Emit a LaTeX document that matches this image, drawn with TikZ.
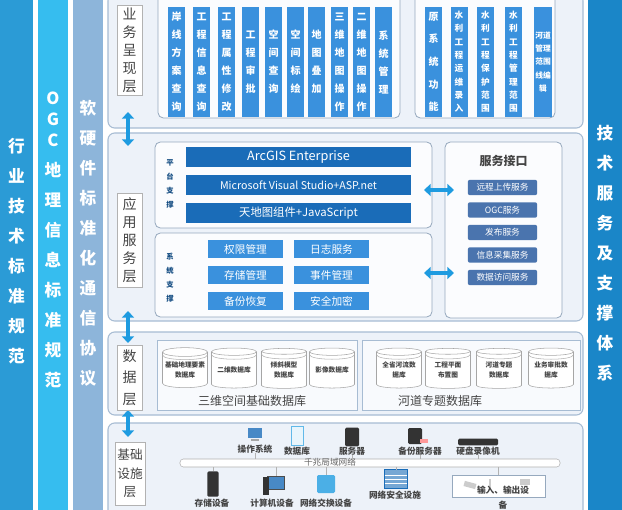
\documentclass[tikz,border=0pt]{standalone}
\usepackage{fontspec}
\setmainfont{Noto Sans CJK SC}
\usetikzlibrary{fit,shapes.geometric,arrows.meta}
\definecolor{colA}{HTML}{2B9BD6}
\definecolor{colB}{HTML}{36BDEF}
\definecolor{colC}{HTML}{8DB5DA}
\definecolor{colR}{HTML}{1A86C8}
\definecolor{layfill}{HTML}{EDF2F9}
\definecolor{layline}{HTML}{A7BCD3}
\definecolor{barblue}{HTML}{3A91DD}
\definecolor{darkbar}{HTML}{1A6CB8}
\definecolor{svc}{HTML}{4A74AE}
\definecolor{arrowc}{HTML}{1E9BE0}
\definecolor{txtg}{HTML}{444444}
\tikzset{
 every node/.style={inner sep=0,outer sep=0},
 colbox/.style={fit={#1},draw=none},
 coltext/.style={text=white,font=\bfseries\fontsize{12.5}{22.5}\selectfont,align=center},
 layer/.style={draw=layline,fill=layfill,line width=0.8pt,rounded corners=5pt,fit={#1}},
 inner/.style={draw=layline!90!black,fill=white!80!layfill,line width=0.6pt,rounded corners=4pt,fit={#1}},
 subp/.style={draw=layline,fill=white!60!layfill,line width=0.6pt,fit={#1}},
 lbl/.style={draw=gray!60,fill=white,fit={#1}},
 lbltxt/.style={text=txtg,font=\fontsize{10.5}{13.5}\selectfont,align=center},
 bar/.style={fill=barblue,text=white,font=\bfseries\fontsize{7.5}{13.5}\selectfont,align=center,minimum width=12.75pt,minimum height=82.5pt},
 rbar/.style={fill=barblue,text=white,font=\bfseries\fontsize{6.5}{10}\selectfont,align=center,minimum width=12.75pt,minimum height=82.5pt},
 dbar/.style={fill=darkbar,minimum width=168.75pt,minimum height=15pt,text=white},
 sbox/.style={fill=barblue,text=white,font=\fontsize{8}{10}\selectfont,minimum width=56pt,minimum height=13.5pt},
 svcbox/.style={fill=svc,text=white,font=\fontsize{6.5}{8}\selectfont,minimum width=52pt,minimum height=11.5pt,rounded corners=1.5pt},
 small/.style={text=darkbar!70!black,font=\bfseries\fontsize{5.5}{10.5}\selectfont,align=center},
 dar/.style={draw=arrowc,line width=3.2pt,{Triangle[width=9pt,length=5pt]}-{Triangle[width=9pt,length=5pt]}},
 cyl/.style={cylinder,shape border rotate=90,aspect=0.22,draw=gray!70,fill=white,minimum width=33.75pt,minimum height=30pt,font=\bfseries\fontsize{5}{8}\selectfont,text=txtg,align=center},
 dblab/.style={text=txtg,font=\fontsize{9}{10}\selectfont},
 ilab/.style={text=txtg,font=\bfseries\fontsize{6.5}{8}\selectfont},
 wire/.style={draw=gray!60,line width=0.5pt},
}
\begin{document}
\begin{tikzpicture}[x=0.75pt,y=-0.75pt]
\useasboundingbox (0,0) rectangle (622,510);
\clip (0,0) rectangle (622,510);
\fill[white] (0,0) rectangle (622,510);
% side columns
\node[colbox={(0,0)(33,510)},fill=colA] (c1) {};
\node[coltext] (c1t) at (16.5,251) {行\\业\\技\\术\\标\\准\\规\\范};
\node[colbox={(38,0)(68,510)},fill=colB] (c2) {};
\node[coltext] (c2t) at (53,240) {O\\[-7pt]G\\[-7pt]C\\地\\理\\信\\息\\标\\准\\规\\范};
\node[colbox={(73,0)(103,510)},fill=colC] (c3) {};
\node[coltext] (c3t) at (88,243) {软\\硬\\件\\标\\准\\化\\通\\信\\协\\议};
\node[colbox={(588,0)(622,510)},fill=colR] (c4) {};
\node[coltext] (c4t) at (605,253) {技\\术\\服\\务\\及\\支\\撑\\体\\系};
% layers
\node[layer={(108,-6)(583,128)}] (L1) {};
\node[layer={(108,133)(583,321)}] (L2) {};
\node[layer={(108,332)(583,415)}] (L3) {};
\node[layer={(108,423)(583,520)}] (L4) {};
% layer 1
\node[lbl={(117,5)(142,95)}] (l1) {};
\node[lbltxt] (l1t) at (l1.center) {业\\务\\呈\\现\\层};
\node[inner={(158,-6)(400,118)}] (P1) {};
\node[inner={(415,-6)(555,118)}] (P2) {};
\node[bar] (b1) at (176.5,62) {岸\\线\\方\\案\\查\\询};
\node[bar] (b2) at (201.5,62) {工\\程\\信\\息\\查\\询};
\node[bar] (b3) at (226.5,62) {工\\程\\属\\性\\修\\改};
\node[bar] (b4) at (250.5,62) {工\\程\\审\\批};
\node[bar] (b5) at (273.5,62) {空\\间\\查\\询};
\node[bar] (b6) at (295.5,62) {空\\间\\标\\绘};
\node[bar] (b7) at (316.5,62) {地\\图\\叠\\加};
\node[bar] (b8) at (339.5,62) {三\\维\\地\\图\\操\\作};
\node[bar] (b9) at (361.5,62) {二\\维\\地\\图\\操\\作};
\node[bar] (b10) at (383.5,62) {系\\统\\管\\理};
\node[rbar,font=\bfseries\fontsize{7.5}{17}\selectfont] (r1) at (433.5,62) {原\\系\\统\\功\\能};
\node[rbar] (r2) at (459,62) {水\\利\\工\\程\\运\\维\\录\\入};
\node[rbar] (r3) at (485.5,62) {水\\利\\工\\程\\保\\护\\范\\围};
\node[rbar] (r4) at (513.5,62) {水\\利\\工\\程\\管\\理\\范\\围};
\node[rbar,minimum width=13.5pt,font=\bfseries\fontsize{5.8}{10}\selectfont] (r5) at (543,62) {河道\\管理\\范围\\线编\\辑};
% layer 2
\node[lbl={(117,193)(142,287)}] (l2) {};
\node[lbltxt] (l2t) at (l2.center) {应\\用\\服\\务\\层};
\node[inner={(155,142)(432,228)}] (PP) {};
\node[small] (pt) at (170,184) {平\\台\\支\\撑};
\node[dbar,font=\fontsize{9.5}{10}\selectfont] (d1) at (298.5,157) {ArcGIS Enterprise};
\node[dbar,font=\fontsize{8}{10}\selectfont] (d2) at (298.5,185) {Microsoft Visual Studio+ASP.net};
\node[dbar,font=\fontsize{8.5}{10}\selectfont] (d3) at (298.5,213) {天地图组件+JavaScript};
\node[inner={(155,233)(432,317)}] (PS) {};
\node[small] (st) at (170,278) {系\\统\\支\\撑};
\node[sbox] (s1) at (245.5,249) {权限管理};
\node[sbox] (s2) at (331.5,249) {日志服务};
\node[sbox] (s3) at (245.5,275) {存储管理};
\node[sbox] (s4) at (331.5,275) {事件管理};
\node[sbox] (s5) at (245.5,301) {备份恢复};
\node[sbox] (s6) at (331.5,301) {安全加密};
\node[inner={(445,142)(562,318)}] (SV) {};
\node[text=txtg,font=\bfseries\fontsize{9}{10}\selectfont] (svt) at (503.5,161) {服务接口};
\node[svcbox] (v1) at (502.5,187.5) {远程上传服务};
\node[svcbox] (v2) at (502.5,210) {OGC服务};
\node[svcbox] (v3) at (502.5,232.5) {发布服务};
\node[svcbox] (v4) at (502.5,255) {信息采集服务};
\node[svcbox] (v5) at (502.5,277.5) {数据访问服务};
\coordinate (h1a) at (424,190); \coordinate (h1b) at (454,190);
\coordinate (h2a) at (424,273); \coordinate (h2b) at (454,273);
\draw[dar] (h1a) -- (h1b);
\draw[dar] (h2a) -- (h2b);
% vertical arrows
\coordinate (va1) at (128,112); \coordinate (vb1) at (128,146);
\coordinate (va2) at (128,311); \coordinate (vb2) at (128,343);
\coordinate (va3) at (128,410); \coordinate (vb3) at (128,437);
\draw[dar] (va1) -- (vb1);
\draw[dar] (va2) -- (vb2);
\draw[dar] (va3) -- (vb3);
% layer 3
\node[lbl={(117,345)(142,410)}] (l3) {};
\node[lbltxt,font=\fontsize{10.5}{16}\selectfont] (l3t) at (l3.center) {数\\据\\层};
\node[subp={(157,340)(357,410)}] (D1) {};
\node[subp={(362,340)(580,410)}] (D2) {};
\foreach \n/\x/\t in {y1/185/基础地理要素\\数据库, y2/234/二维数据库, y3/284/倾斜模型\\数据库, y4/332/影像数据库,
  y5/399/全省河流数\\据库, y6/448/工程平面\\布置图, y7/499/河道专题\\数据库, y8/551/业务审批数\\据库}{
  \node[cyl] (\n) at (\x,370) {\t};
  \draw[gray!60,line width=0.4pt] ([yshift=-2.2pt]\n.before top) to[out=-90,in=-90,looseness=0.35] ([yshift=-2.2pt]\n.after top);
}
\node[dblab] (dt1) at (252,401) {三维空间基础数据库};
\node[dblab] (dt2) at (440,401) {河道专题数据库};
% layer 4
\node[lbl={(115,442)(145,505)}] (l4) {};
\node[lbltxt,font=\fontsize{9.5}{14}\selectfont] (l4t) at (l4.center) {基础\\设施\\层};
\node[draw=gray!60,fill=white,rounded corners=2.5pt,fit={(180,459)(560,467)}] (bus) {};
\node[text=gray!80!black,font=\fontsize{6.5}{8}\selectfont] (bust) at (330,462) {千兆局域网络};
% top icons
\node[fill=darkbar!80,minimum width=10.5pt,minimum height=7.5pt] (i1) at (255,433) {};
\node[fill=gray!70,minimum width=6pt,minimum height=1.5pt] (i1s) at (255,440) {};
\node[ilab] (t1) at (255,449) {操作系统};
\node[cylinder,shape border rotate=90,aspect=0.3,draw=arrowc!70,fill=arrowc!10,minimum width=9pt,minimum height=14pt] (i2) at (297,436) {};
\node[ilab] (t2) at (297,451) {数据库};
\node[fill=black!80,rounded corners=1pt,minimum width=10.5pt,minimum height=14pt] (i3) at (352,437) {};
\node[ilab] (t3) at (352,451) {服务器};
\node[fill=black!80,rounded corners=1pt,minimum width=10.5pt,minimum height=12pt] (i4) at (415,436) {};
\node[fill=red!40!white,minimum width=6pt,minimum height=3pt] (i4b) at (424,441) {};
\node[ilab] (t4) at (420,451) {备份服务器};
\node[fill=black!80,rounded corners=1pt,minimum width=30pt,minimum height=5pt] (i5) at (478,442) {};
\node[ilab] (t5) at (478,451) {硬盘录像机};
\foreach \t in {t1,t3,t4,t5}{\draw[wire] (\t.south) -- (\t.south |- bus.north);}
% bottom icons
\node[fill=black!80,rounded corners=1pt,minimum width=8.5pt,minimum height=19pt] (j1) at (213,484) {};
\node[ilab] (u1) at (212,503) {存储设备};
\node[fill=darkbar!80,draw=black!70,minimum width=13pt,minimum height=10pt] (j2) at (276,483) {};
\node[fill=black!80,minimum width=5pt,minimum height=14pt] (j2b) at (266,486) {};
\node[ilab] (u2) at (272,503) {计算机设备};
\node[fill=arrowc!80,rounded corners=1pt,minimum width=13.5pt,minimum height=13.5pt] (j3) at (326,484) {};
\node[ilab] (u3) at (326,503) {网络交换设备};
\node[fill=darkbar!60,draw=darkbar,minimum width=17pt,minimum height=14pt] (j4) at (396,479) {};
\foreach \d in {-3,0,3}{\draw[white,line width=0.6pt] ([yshift=\d pt]j4.west) -- ([yshift=\d pt]j4.east);}
\node[ilab] (u4) at (395,495) {网络安全设施};
\node[draw=layline!90!black,fill=white,fit={(452,475)(545,497)}] (io) {};
\node[fill=gray!40,minimum width=9pt,minimum height=4pt,rotate=-15] (k1) at (470,485) {};
\node[fill=gray!40,minimum width=2pt,minimum height=8pt] (k2) at (490,484) {};
\node[fill=gray!40,minimum width=7pt,minimum height=5pt] (k3) at (525,482) {};
\node[ilab] (u5) at (503,490) {输入、输出设};
\node[ilab] (u6) at (503,505) {备};
\draw[wire] (bus.south -| j1.north) -- (j1.north);
\draw[wire] (bus.south -| j2.north) -- (j2.north);
\draw[wire] (bus.south -| j3.north) -- (j3.north);
\draw[wire] (bus.south -| j4.north) -- (j4.north);
\draw[wire] (bus.south -| io.north) -- (io.north);
\end{tikzpicture}
\end{document}
